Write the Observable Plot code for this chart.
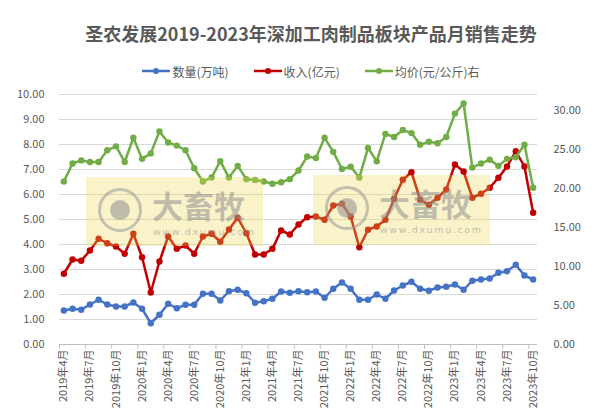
<!DOCTYPE html>
<html><head><meta charset="utf-8">
<script src="https://cdn.jsdelivr.net/npm/d3@7"></script>
<script src="https://cdn.jsdelivr.net/npm/@observablehq/plot@0.6"></script>
<style>
body{margin:0;background:#fff;font-family:"Microsoft YaHei","Noto Sans CJK SC",sans-serif;}
#wrap{position:relative;width:598px;height:418px;overflow:hidden;}
#title{height:58px;box-sizing:border-box;padding-top:20px;padding-left:24px;text-align:center;font-size:18px;font-weight:bold;color:#595959;line-height:26px;white-space:nowrap;}
#legend{height:26px;display:flex;justify-content:center;align-items:center;padding-left:24px;gap:25px;font-size:12px;color:#595959;}
.item{display:flex;align-items:center;gap:2px;}
.wm{position:absolute;background:rgba(240,215,80,0.3);pointer-events:none;}
.wm .logo{position:absolute;left:12px;top:11px;width:38px;height:38px;border:3px solid rgba(150,150,150,0.55);border-radius:50%;}
.wm .logo::after{content:"";position:absolute;left:9px;top:9px;width:20px;height:20px;border-radius:50%;background:rgba(150,150,150,0.6);}
.wm .wt{position:absolute;left:66px;top:12px;font-size:31px;font-weight:bold;color:rgba(140,140,140,0.55);line-height:31px;height:31px;letter-spacing:0px;}
.wm .wu{position:absolute;left:67px;top:50px;font-size:9.5px;line-height:10px;color:rgba(140,140,140,0.55);letter-spacing:1.6px;font-family:"DejaVu Sans",sans-serif;}
</style>
</head><body>
<div id="wrap">
<div id="title">圣农发展2019-2023年深加工肉制品板块产品月销售走势</div>
<div id="legend"></div>
<div id="chart"></div>
<div class="wm" style="left:86px;top:177px;width:177px;height:69px"><div class="logo"></div><div class="wt">大畜牧</div><div class="wu">www.dxumu.com</div></div>
<div class="wm" style="left:313px;top:175px;width:177px;height:70px"><div class="logo"></div><div class="wt">大畜牧</div><div class="wu">www.dxumu.com</div></div>
</div>
<script>
const months = ["2019年4月","2019年5月","2019年6月","2019年7月","2019年8月","2019年9月","2019年10月","2019年11月","2019年12月",
"2020年1月","2020年2月","2020年3月","2020年4月","2020年5月","2020年6月","2020年7月","2020年8月","2020年9月","2020年10月","2020年11月","2020年12月",
"2021年1月","2021年2月","2021年3月","2021年4月","2021年5月","2021年6月","2021年7月","2021年8月","2021年9月","2021年10月","2021年11月","2021年12月",
"2022年1月","2022年2月","2022年3月","2022年4月","2022年5月","2022年6月","2022年7月","2022年8月","2022年9月","2022年10月","2022年11月","2022年12月",
"2023年1月","2023年2月","2023年3月","2023年4月","2023年5月","2023年6月","2023年7月","2023年8月","2023年9月","2023年10月"];

// 数量(万吨) - left axis
const qty = [1.36,1.43,1.39,1.60,1.79,1.60,1.52,1.52,1.68,1.43,0.85,1.19,1.63,1.45,1.59,1.59,2.03,2.03,1.76,2.13,2.19,2.05,1.67,1.73,1.83,2.12,2.07,2.13,
2.09,2.12,1.87,2.23,2.48,2.23,1.79,1.79,2.00,1.83,2.16,2.36,2.51,2.23,2.15,2.28,2.31,2.40,2.19,2.55,2.60,2.64,2.87,2.93,3.19,2.76,2.60];
// 收入(亿元) - left axis
const revenue = [2.83,3.40,3.35,3.76,4.23,4.05,3.92,3.63,4.43,3.49,2.08,3.32,4.32,3.83,3.96,3.63,4.32,4.43,4.11,4.60,5.07,4.45,3.60,3.60,3.83,4.56,4.40,4.80,
5.09,5.12,4.99,5.56,5.63,5.12,3.89,4.59,4.72,4.99,5.83,6.59,6.89,5.79,5.59,5.87,6.20,7.20,6.92,5.87,6.03,6.27,6.67,7.12,7.73,7.12,5.27];
// 均价(元/公斤) - right axis
const price = [20.9,23.2,23.6,23.4,23.4,24.9,25.4,23.4,26.5,23.8,24.5,27.3,25.9,25.5,24.9,22.6,20.9,21.4,23.5,21.4,22.9,21.2,21.1,20.9,20.6,20.8,21.2,22.3,
24.1,23.9,26.5,24.7,22.5,22.8,21.4,25.2,23.5,27.0,26.6,27.5,27.1,25.6,26.0,25.8,26.6,29.6,30.9,22.7,23.2,23.7,22.9,23.8,24.0,25.6,20.1];

const leftTicks = [0,1,2,3,4,5,6,7,8,9,10];
const rightTicks = [0,5,10,15,20,25,30];
const seriesNames = ["数量(万吨)","收入(亿元)","均价(元/公斤)右"];
const colors = ["#4472C4","#C00000","#70AD47"];

// legend
const lg = document.getElementById("legend");
seriesNames.forEach((n,k)=>{
  const it = document.createElement("div"); it.className="item";
  it.innerHTML = `<svg width="28" height="10"><line x1="0" x2="28" y1="5" y2="5" stroke="${colors[k]}" stroke-width="2.5"/><circle cx="14" cy="5" r="3" fill="${colors[k]}"/></svg><span>${n}</span>`;
  lg.appendChild(it);
});

const rows = months.map((m,i)=>({i, m, qty:qty[i], rev:revenue[i], price:price[i]}));
const RMAX = 32.05;
const r2l = d3.scaleLinear([0,RMAX],[0,10]);
const labelIdx = d3.range(0, months.length, 3);
const boundaries = d3.range(-0.5, months.length, 3);
const fmt = d3.format(".2f");

const chart = Plot.plot({
  width:598, height:334,
  marginTop:10, marginBottom:74, marginLeft:59, marginRight:61,
  x:{domain:[-0.5, months.length-0.5]},
  y:{domain:[0,10]},
  style:{fontFamily:'"Microsoft YaHei","Noto Sans CJK SC",sans-serif', fontSize:"11px", color:"#595959", background:"transparent"},
  marks:[
    Plot.gridY(leftTicks, {stroke:"#d9d9d9", strokeOpacity:1}),
    Plot.ruleY([0], {stroke:"#bfbfbf"}),
    Plot.axisY(leftTicks, {tickSize:0, tickPadding:15, tickFormat:fmt, label:null}),
    Plot.axisY(rightTicks.map(r2l), {anchor:"right", tickSize:0, tickPadding:16, tickFormat:v=>fmt(r2l.invert(v)), label:null}),
    Plot.axisX(boundaries, {tickSize:5, tickFormat:()=>"", stroke:"#bfbfbf", label:null}),
    Plot.axisX(labelIdx, {tickSize:0, tickPadding:5, tickRotate:-90, tickFormat:i=>months[i], label:null}),
    Plot.line(rows, {x:"i", y:"qty", stroke:colors[0], strokeWidth:2.5}),
    Plot.dot(rows, {x:"i", y:"qty", fill:colors[0], r:3.2}),
    Plot.line(rows, {x:"i", y:"rev", stroke:colors[1], strokeWidth:2.5}),
    Plot.dot(rows, {x:"i", y:"rev", fill:colors[1], r:3.2}),
    Plot.line(rows, {x:"i", y:d=>r2l(d.price), stroke:colors[2], strokeWidth:2.5}),
    Plot.dot(rows, {x:"i", y:d=>r2l(d.price), fill:colors[2], r:3.2})
  ]
});
document.getElementById("chart").appendChild(chart);
</script>
</body></html>
